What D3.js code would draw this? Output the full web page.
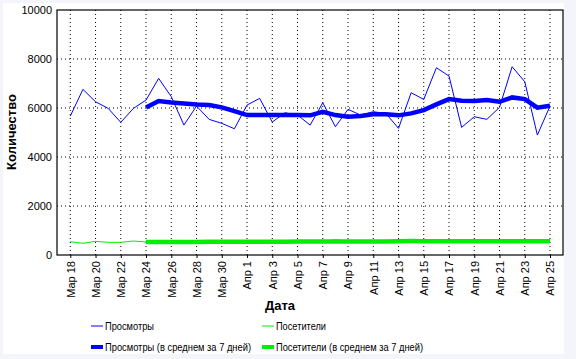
<!DOCTYPE html>
<html><head><meta charset="utf-8">
<script src="https://cdn.jsdelivr.net/npm/d3@7"></script>
<style>
html,body{margin:0;padding:0;background:#f4f5fb;}
svg{display:block;font-family:"Liberation Sans",Arial,sans-serif;}
</style></head>
<body>
<svg id="c" width="576" height="359"></svg>
<script>
const tickLabels = ["Мар 18","Мар 20","Мар 22","Мар 24","Мар 26","Мар 28","Мар 30","Апр 1","Апр 3","Апр 5","Апр 7","Апр 9","Апр 11","Апр 13","Апр 15","Апр 17","Апр 19","Апр 21","Апр 23","Апр 25"];
const days = ["Мар 18","Мар 19","Мар 20","Мар 21","Мар 22","Мар 23","Мар 24","Мар 25","Мар 26","Мар 27","Мар 28","Мар 29","Мар 30","Мар 31",
 "Апр 1","Апр 2","Апр 3","Апр 4","Апр 5","Апр 6","Апр 7","Апр 8","Апр 9","Апр 10","Апр 11","Апр 12","Апр 13","Апр 14","Апр 15","Апр 16","Апр 17","Апр 18","Апр 19","Апр 20","Апр 21","Апр 22","Апр 23","Апр 24","Апр 25"];
const views = [5670,6760,6255,5985,5414,5985,6324,7209,6460,5304,6079,5536,5373,5153,
 6120,6393,5426,5806,5712,5304,6214,5236,5944,5712,5848,5780,5168,6623,6351,7644,7303,5209,5644,5537,6025,7685,7072,4896,6079];
const viewsAvg = [null,null,null,null,null,null,6025,6283,6229,6188,6140,6120,6025,5875,
 5712,5712,5712,5712,5712,5700,5848,5712,5644,5670,5740,5740,5700,5780,5916,6146,6364,6296,6283,6324,6255,6432,6364,6011,6093];
const visitors = [544,476,558,517,517,571,530,540,545,540,535,540,538,540,
 545,540,545,550,585,550,545,625,570,560,560,560,625,625,625,560,560,560,560,560,560,560,560,560,560];
const visitorsAvg = [null,null,null,null,null,null,530,532,534,535,535,536,537,538,
 540,540,542,543,550,548,546,555,555,556,556,556,566,568,566,560,560,560,560,560,560,560,560,560,560];
const yTicks = [0,2000,4000,6000,8000,10000];
const legendNames = ["Просмотры","Посетители","Просмотры (в среднем за 7 дней)","Посетители (в среднем за 7 дней)"];

const svg = d3.select("#c");
svg.append("rect").attr("x",3).attr("y",3).attr("width",561).attr("height",351).attr("fill","#fff");

const L=57,T=10,R=563,B=255;
const x = d3.scalePoint().domain(days).range([70.3,550]);
const y = d3.scaleLinear().domain([0,10000]).range([B,T]);

// grid
const g = svg.append("g");
g.selectAll("line.vg").data(tickLabels).enter().append("line")
 .attr("x1",d=>x(d)).attr("x2",d=>x(d)).attr("y1",T).attr("y2",B)
 .attr("stroke","#000").attr("stroke-dasharray","1,3");
g.selectAll("line.hg").data(yTicks.filter(v=>v>0&&v<10000)).enter().append("line")
 .attr("x1",L).attr("x2",R).attr("y1",d=>y(d)).attr("y2",d=>y(d))
 .attr("stroke","#000").attr("stroke-dasharray","1,3");

// axes
const xa = svg.append("g").attr("transform",`translate(0,${B})`)
 .call(d3.axisBottom(x).tickValues(tickLabels).tickSize(3).tickSizeOuter(0));
xa.select(".domain").remove();
xa.selectAll("text").attr("transform","rotate(-90)").attr("text-anchor","end")
 .attr("x",-6).attr("y",0).attr("dy","0.35em").attr("font-size",11).attr("font-family","Liberation Sans, Arial, sans-serif").attr("fill","#000");
const ya = svg.append("g").attr("transform",`translate(${L},0)`)
 .call(d3.axisLeft(y).tickValues(yTicks).tickSize(0).tickPadding(5).tickFormat(d3.format("d")));
ya.select(".domain").remove();
ya.selectAll("text").attr("font-size",11).attr("font-family","Liberation Sans, Arial, sans-serif").attr("fill","#000");

svg.append("rect").attr("x",L).attr("y",T).attr("width",R-L).attr("height",B-T)
 .attr("fill","none").attr("stroke","#000").attr("stroke-width",1.2);

const line = d3.line().defined(d=>d[1]!=null).x(d=>x(d[0])).y(d=>y(d[1]));
const zip = arr => days.map((d,i)=>[d,arr[i]]);
svg.append("path").attr("d",line(zip(visitors))).attr("fill","none").attr("stroke","#00ee00").attr("stroke-width",1);
svg.append("path").attr("d",line(zip(visitorsAvg))).attr("fill","none").attr("stroke","#00ee00").attr("stroke-width",4.5);
svg.append("path").attr("d",line(zip(views))).attr("fill","none").attr("stroke","#0000ff").attr("stroke-width",1);
svg.append("path").attr("d",line(zip(viewsAvg))).attr("fill","none").attr("stroke","#0000ff").attr("stroke-width",4.5);

// titles
svg.append("text").attr("x",280).attr("y",310).attr("text-anchor","middle")
 .attr("font-size",13).attr("font-weight","bold").text("Дата");
svg.append("text").attr("transform","translate(16,132) rotate(-90)").attr("text-anchor","middle")
 .attr("font-size",13).attr("font-weight","bold").text("Количество");

// legend
const legend = [
 {t:legendNames[0],c:"#0000ff",w:1,x:91,y:326,len:49},
 {t:legendNames[1],c:"#00ee00",w:1,x:262,y:326,len:50},
 {t:legendNames[2],c:"#0000ff",w:4,x:91,y:347,len:146},
 {t:legendNames[3],c:"#00ee00",w:4,x:262,y:347,len:147}
];
const lg = svg.selectAll("g.lg").data(legend).enter().append("g");
lg.append("line").attr("x1",d=>d.x).attr("x2",d=>d.x+12).attr("y1",d=>d.y).attr("y2",d=>d.y)
 .attr("stroke",d=>d.c).attr("stroke-width",d=>d.w);
lg.append("text").attr("x",d=>d.x+14).attr("y",d=>d.y).attr("dy","0.35em")
 .attr("font-size",11).attr("textLength",d=>d.len).attr("lengthAdjust","spacingAndGlyphs").text(d=>d.t);
</script>
</body></html>
